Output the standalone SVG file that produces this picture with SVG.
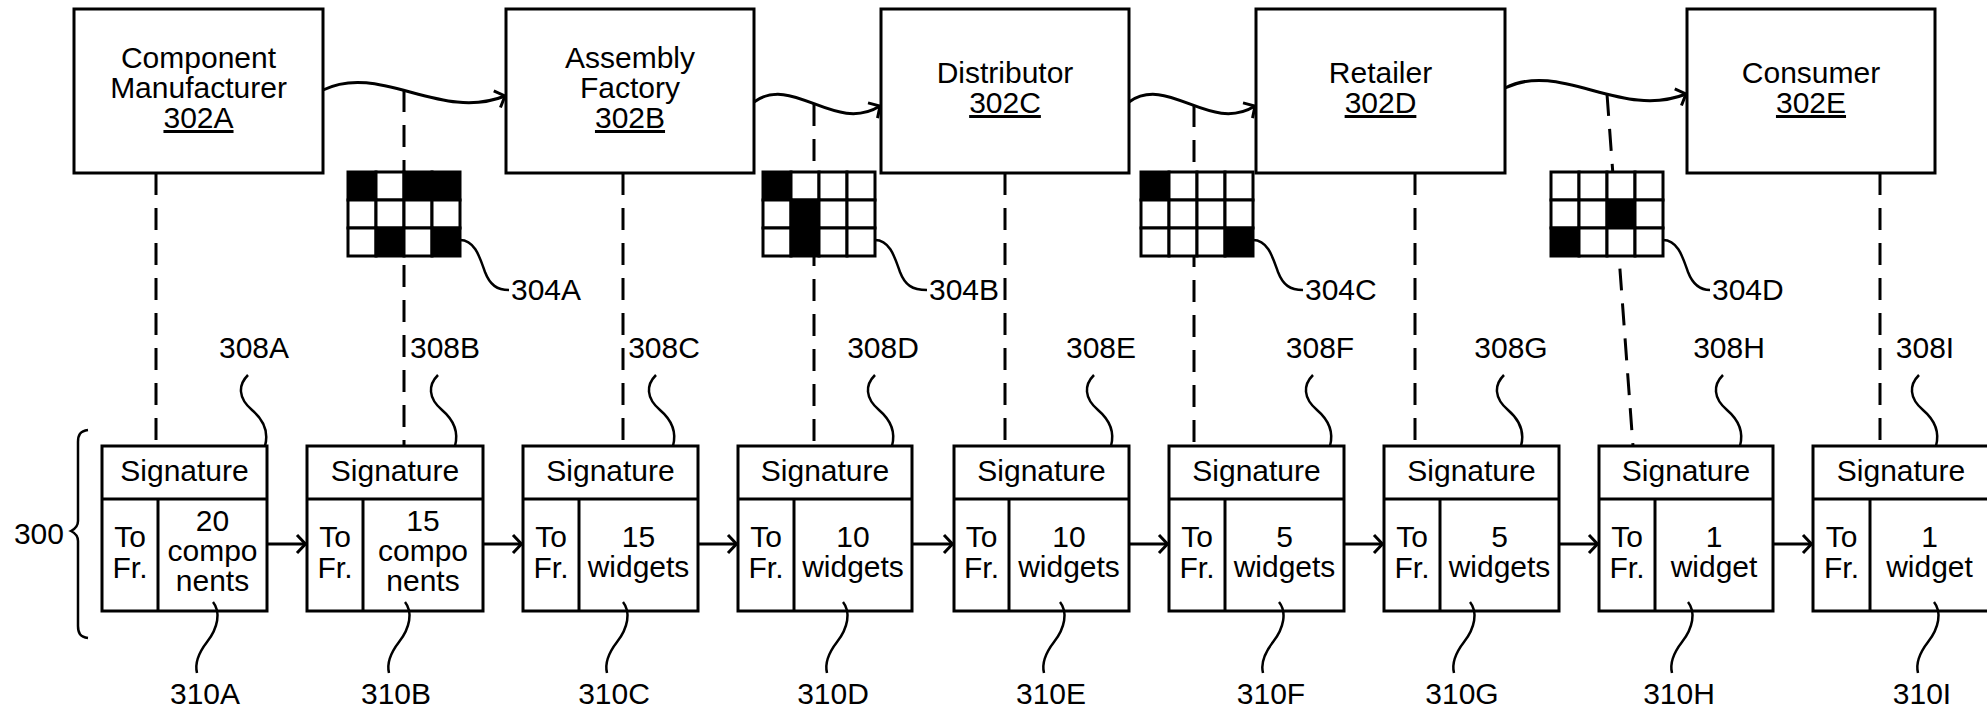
<svg xmlns="http://www.w3.org/2000/svg" width="1987" height="713" viewBox="0 0 1987 713">
<style>
.box{fill:#fff;stroke:#000;stroke-width:3}
.sep{stroke:#000;stroke-width:3}
.t{font-family:"Liberation Sans",Arial,Helvetica,sans-serif;font-size:30px;fill:#000;text-anchor:middle}
.ts{text-anchor:start}
.te{text-anchor:end}
.u{text-decoration:underline}
.dash{stroke:#000;stroke-width:3;stroke-dasharray:22 13;fill:none}
.lead{stroke:#000;stroke-width:2.5;fill:none}
.conn{stroke:#000;stroke-width:3;fill:none;marker-end:url(#arr)}
.w{fill:#fff;stroke:#000;stroke-width:3}
.b{fill:#000;stroke:#000;stroke-width:3}
</style>
<defs>
<marker id="arr" markerUnits="userSpaceOnUse" viewBox="-12 -12 14 24" refX="0" refY="0" markerWidth="14" markerHeight="24" orient="auto" overflow="visible">
<path d="M -8.5 -9 L 0 0 L -8.5 9" fill="none" stroke="#000" stroke-width="3"/>
</marker>
</defs>

<g id="dashed-lines">
<line class="dash" x1="156" y1="173" x2="156" y2="446"/>
<line class="dash" x1="404" y1="90" x2="404" y2="446"/>
<line class="dash" x1="623" y1="173" x2="623" y2="446"/>
<line class="dash" x1="814" y1="104" x2="814" y2="446"/>
<line class="dash" x1="1005" y1="173" x2="1005" y2="446"/>
<line class="dash" x1="1194" y1="105" x2="1194" y2="446"/>
<line class="dash" x1="1415" y1="173" x2="1415" y2="446"/>
<line class="dash" x1="1607" y1="94" x2="1633" y2="446"/>
<line class="dash" x1="1880" y1="173" x2="1880" y2="446"/>
</g>

<g id="grid-304A">
<rect class="b" x="348" y="172" width="28" height="28"/><rect class="w" x="376" y="172" width="28" height="28"/><rect class="b" x="404" y="172" width="28" height="28"/><rect class="b" x="432" y="172" width="28" height="28"/>
<rect class="w" x="348" y="200" width="28" height="28"/><rect class="w" x="376" y="200" width="28" height="28"/><rect class="w" x="404" y="200" width="28" height="28"/><rect class="w" x="432" y="200" width="28" height="28"/>
<rect class="w" x="348" y="228" width="28" height="28"/><rect class="b" x="376" y="228" width="28" height="28"/><rect class="w" x="404" y="228" width="28" height="28"/><rect class="b" x="432" y="228" width="28" height="28"/>
<path class="lead" d="M 460 240 C 475 240, 480 258, 485 272 C 490 285, 497 290, 509 290"/>
<text class="t ts" x="511" y="300">304A</text>
</g>
<g id="grid-304B">
<rect class="b" x="763" y="172" width="28" height="28"/><rect class="w" x="791" y="172" width="28" height="28"/><rect class="w" x="819" y="172" width="28" height="28"/><rect class="w" x="847" y="172" width="28" height="28"/>
<rect class="w" x="763" y="200" width="28" height="28"/><rect class="b" x="791" y="200" width="28" height="28"/><rect class="w" x="819" y="200" width="28" height="28"/><rect class="w" x="847" y="200" width="28" height="28"/>
<rect class="w" x="763" y="228" width="28" height="28"/><rect class="b" x="791" y="228" width="28" height="28"/><rect class="w" x="819" y="228" width="28" height="28"/><rect class="w" x="847" y="228" width="28" height="28"/>
<path class="lead" d="M 875 240 C 890 240, 895 258, 900 272 C 905 285, 912 290, 927 290"/>
<text class="t ts" x="929" y="300">304B</text>
</g>
<g id="grid-304C">
<rect class="b" x="1141" y="172" width="28" height="28"/><rect class="w" x="1169" y="172" width="28" height="28"/><rect class="w" x="1197" y="172" width="28" height="28"/><rect class="w" x="1225" y="172" width="28" height="28"/>
<rect class="w" x="1141" y="200" width="28" height="28"/><rect class="w" x="1169" y="200" width="28" height="28"/><rect class="w" x="1197" y="200" width="28" height="28"/><rect class="w" x="1225" y="200" width="28" height="28"/>
<rect class="w" x="1141" y="228" width="28" height="28"/><rect class="w" x="1169" y="228" width="28" height="28"/><rect class="w" x="1197" y="228" width="28" height="28"/><rect class="b" x="1225" y="228" width="28" height="28"/>
<path class="lead" d="M 1253 240 C 1268 240, 1273 258, 1278 272 C 1283 285, 1290 290, 1303 290"/>
<text class="t ts" x="1305" y="300">304C</text>
</g>
<g id="grid-304D">
<rect class="w" x="1551" y="172" width="28" height="28"/><rect class="w" x="1579" y="172" width="28" height="28"/><rect class="w" x="1607" y="172" width="28" height="28"/><rect class="w" x="1635" y="172" width="28" height="28"/>
<rect class="w" x="1551" y="200" width="28" height="28"/><rect class="w" x="1579" y="200" width="28" height="28"/><rect class="b" x="1607" y="200" width="28" height="28"/><rect class="w" x="1635" y="200" width="28" height="28"/>
<rect class="b" x="1551" y="228" width="28" height="28"/><rect class="w" x="1579" y="228" width="28" height="28"/><rect class="w" x="1607" y="228" width="28" height="28"/><rect class="w" x="1635" y="228" width="28" height="28"/>
<path class="lead" d="M 1663 240 C 1678 240, 1683 258, 1688 272 C 1693 285, 1700 290, 1710 290"/>
<text class="t ts" x="1712" y="300">304D</text>
</g>

<g id="node-302A">
<rect class="box" x="74" y="9" width="249" height="164"/>
<text class="t" x="198.5" y="68">Component</text>
<text class="t" x="198.5" y="98">Manufacturer</text>
<text class="t u" x="198.5" y="128">302A</text>
</g>
<g id="node-302B">
<rect class="box" x="506" y="9" width="248" height="164"/>
<text class="t" x="630" y="68">Assembly</text>
<text class="t" x="630" y="98">Factory</text>
<text class="t u" x="630" y="128">302B</text>
</g>
<g id="node-302C">
<rect class="box" x="881" y="9" width="248" height="164"/>
<text class="t" x="1005" y="83">Distributor</text>
<text class="t u" x="1005" y="113">302C</text>
</g>
<g id="node-302D">
<rect class="box" x="1256" y="9" width="249" height="164"/>
<text class="t" x="1380.5" y="83">Retailer</text>
<text class="t u" x="1380.5" y="113">302D</text>
</g>
<g id="node-302E">
<rect class="box" x="1687" y="9" width="248" height="164"/>
<text class="t" x="1811" y="83">Consumer</text>
<text class="t u" x="1811" y="113">302E</text>
</g>

<g id="sig-310A">
<rect class="box" x="102" y="446" width="165" height="165"/>
<line class="sep" x1="102" y1="499" x2="267" y2="499"/><line class="sep" x1="158" y1="499" x2="158" y2="611"/>
<text class="t" x="184.5" y="481">Signature</text>
<text class="t" x="130" y="547">To</text><text class="t" x="130" y="578">Fr.</text>
<text class="t" x="212.5" y="531">20</text><text class="t" x="212.5" y="561">compo</text><text class="t" x="212.5" y="591">nents</text>
</g>
<g id="sig-310B">
<rect class="box" x="307" y="446" width="176" height="165"/>
<line class="sep" x1="307" y1="499" x2="483" y2="499"/><line class="sep" x1="363" y1="499" x2="363" y2="611"/>
<text class="t" x="395" y="481">Signature</text>
<text class="t" x="335" y="547">To</text><text class="t" x="335" y="578">Fr.</text>
<text class="t" x="423" y="531">15</text><text class="t" x="423" y="561">compo</text><text class="t" x="423" y="591">nents</text>
</g>
<g id="sig-310C">
<rect class="box" x="523" y="446" width="175" height="165"/>
<line class="sep" x1="523" y1="499" x2="698" y2="499"/><line class="sep" x1="579" y1="499" x2="579" y2="611"/>
<text class="t" x="610.5" y="481">Signature</text>
<text class="t" x="551" y="547">To</text><text class="t" x="551" y="578">Fr.</text>
<text class="t" x="638.5" y="547">15</text><text class="t" x="638.5" y="577">widgets</text>
</g>
<g id="sig-310D">
<rect class="box" x="738" y="446" width="174" height="165"/>
<line class="sep" x1="738" y1="499" x2="912" y2="499"/><line class="sep" x1="794" y1="499" x2="794" y2="611"/>
<text class="t" x="825" y="481">Signature</text>
<text class="t" x="766" y="547">To</text><text class="t" x="766" y="578">Fr.</text>
<text class="t" x="853" y="547">10</text><text class="t" x="853" y="577">widgets</text>
</g>
<g id="sig-310E">
<rect class="box" x="954" y="446" width="175" height="165"/>
<line class="sep" x1="954" y1="499" x2="1129" y2="499"/><line class="sep" x1="1009" y1="499" x2="1009" y2="611"/>
<text class="t" x="1041.5" y="481">Signature</text>
<text class="t" x="981.5" y="547">To</text><text class="t" x="981.5" y="578">Fr.</text>
<text class="t" x="1069" y="547">10</text><text class="t" x="1069" y="577">widgets</text>
</g>
<g id="sig-310F">
<rect class="box" x="1169" y="446" width="175" height="165"/>
<line class="sep" x1="1169" y1="499" x2="1344" y2="499"/><line class="sep" x1="1225" y1="499" x2="1225" y2="611"/>
<text class="t" x="1256.5" y="481">Signature</text>
<text class="t" x="1197" y="547">To</text><text class="t" x="1197" y="578">Fr.</text>
<text class="t" x="1284.5" y="547">5</text><text class="t" x="1284.5" y="577">widgets</text>
</g>
<g id="sig-310G">
<rect class="box" x="1384" y="446" width="175" height="165"/>
<line class="sep" x1="1384" y1="499" x2="1559" y2="499"/><line class="sep" x1="1440" y1="499" x2="1440" y2="611"/>
<text class="t" x="1471.5" y="481">Signature</text>
<text class="t" x="1412" y="547">To</text><text class="t" x="1412" y="578">Fr.</text>
<text class="t" x="1499.5" y="547">5</text><text class="t" x="1499.5" y="577">widgets</text>
</g>
<g id="sig-310H">
<rect class="box" x="1599" y="446" width="174" height="165"/>
<line class="sep" x1="1599" y1="499" x2="1773" y2="499"/><line class="sep" x1="1655" y1="499" x2="1655" y2="611"/>
<text class="t" x="1686" y="481">Signature</text>
<text class="t" x="1627" y="547">To</text><text class="t" x="1627" y="578">Fr.</text>
<text class="t" x="1714" y="547">1</text><text class="t" x="1714" y="577">widget</text>
</g>
<g id="sig-310I">
<rect class="box" x="1813" y="446" width="176" height="165"/>
<line class="sep" x1="1813" y1="499" x2="1989" y2="499"/><line class="sep" x1="1870" y1="499" x2="1870" y2="611"/>
<text class="t" x="1901" y="481">Signature</text>
<text class="t" x="1841.5" y="547">To</text><text class="t" x="1841.5" y="578">Fr.</text>
<text class="t" x="1929.5" y="547">1</text><text class="t" x="1929.5" y="577">widget</text>
</g>

<g id="connectors">
<path class="conn" d="M 323 90 C 380 62, 440 122, 505 96"/>
<path class="conn" d="M 754 102 C 793 74, 835 134, 880 106"/>
<path class="conn" d="M 1129 102 C 1168 74, 1210 134, 1255 106"/>
<path class="conn" d="M 1505 88 C 1561 60, 1621 120, 1686 94"/>
<line class="conn" x1="267" y1="544" x2="305.5" y2="544"/>
<line class="conn" x1="483" y1="544" x2="521.5" y2="544"/>
<line class="conn" x1="698" y1="544" x2="736.5" y2="544"/>
<line class="conn" x1="912" y1="544" x2="952.5" y2="544"/>
<line class="conn" x1="1129" y1="544" x2="1167.5" y2="544"/>
<line class="conn" x1="1344" y1="544" x2="1382.5" y2="544"/>
<line class="conn" x1="1559" y1="544" x2="1597.5" y2="544"/>
<line class="conn" x1="1773" y1="544" x2="1811.5" y2="544"/>
</g>

<g id="labels-308">
<path class="lead" d="M 248 375 c -10 10, -10 23, 4 35 c 14 12, 16 25, 13 36"/>
<path class="lead" d="M 438 375 c -10 10, -10 23, 4 35 c 14 12, 16 25, 13 36"/>
<path class="lead" d="M 656 375 c -10 10, -10 23, 4 35 c 14 12, 16 25, 13 36"/>
<path class="lead" d="M 875 375 c -10 10, -10 23, 4 35 c 14 12, 16 25, 13 36"/>
<path class="lead" d="M 1094 375 c -10 10, -10 23, 4 35 c 14 12, 16 25, 13 36"/>
<path class="lead" d="M 1313 375 c -10 10, -10 23, 4 35 c 14 12, 16 25, 13 36"/>
<path class="lead" d="M 1504 375 c -10 10, -10 23, 4 35 c 14 12, 16 25, 13 36"/>
<path class="lead" d="M 1723 375 c -10 10, -10 23, 4 35 c 14 12, 16 25, 13 36"/>
<path class="lead" d="M 1919 375 c -10 10, -10 23, 4 35 c 14 12, 16 25, 13 36"/>
<text class="t" x="254" y="358">308A</text>
<text class="t" x="445" y="358">308B</text>
<text class="t" x="664" y="358">308C</text>
<text class="t" x="883" y="358">308D</text>
<text class="t" x="1101" y="358">308E</text>
<text class="t" x="1320" y="358">308F</text>
<text class="t" x="1511" y="358">308G</text>
<text class="t" x="1729" y="358">308H</text>
<text class="t" x="1925" y="358">308I</text>
</g>

<g id="labels-310">
<path class="lead" d="M 213 602 C 221 612, 218 628, 207 642 C 197 655, 195 665, 197 673"/>
<path class="lead" d="M 405 602 C 413 612, 410 628, 399 642 C 389 655, 387 665, 389 673"/>
<path class="lead" d="M 623 602 C 631 612, 628 628, 617 642 C 607 655, 605 665, 607 673"/>
<path class="lead" d="M 843 602 C 851 612, 848 628, 837 642 C 827 655, 825 665, 827 673"/>
<path class="lead" d="M 1060 602 C 1068 612, 1065 628, 1054 642 C 1044 655, 1042 665, 1044 673"/>
<path class="lead" d="M 1279 602 C 1287 612, 1284 628, 1273 642 C 1263 655, 1261 665, 1263 673"/>
<path class="lead" d="M 1470 602 C 1478 612, 1475 628, 1464 642 C 1454 655, 1452 665, 1454 673"/>
<path class="lead" d="M 1688 602 C 1696 612, 1693 628, 1682 642 C 1672 655, 1670 665, 1672 673"/>
<path class="lead" d="M 1934 602 C 1942 612, 1939 628, 1928 642 C 1918 655, 1916 665, 1918 673"/>
<text class="t" x="205" y="704">310A</text>
<text class="t" x="396" y="704">310B</text>
<text class="t" x="614" y="704">310C</text>
<text class="t" x="833" y="704">310D</text>
<text class="t" x="1051" y="704">310E</text>
<text class="t" x="1271" y="704">310F</text>
<text class="t" x="1462" y="704">310G</text>
<text class="t" x="1679" y="704">310H</text>
<text class="t" x="1922" y="704">310I</text>
</g>

<g id="brace-300">
<path class="lead" d="M 88 430 C 80 431, 78 435, 78 442 L 78 521 C 78 526, 75 529, 71 531 C 75 533, 78 536, 78 541 L 78 626 C 78 633, 80 637, 88 638"/>
<text class="t te" x="64" y="544">300</text>
</g>
</svg>
